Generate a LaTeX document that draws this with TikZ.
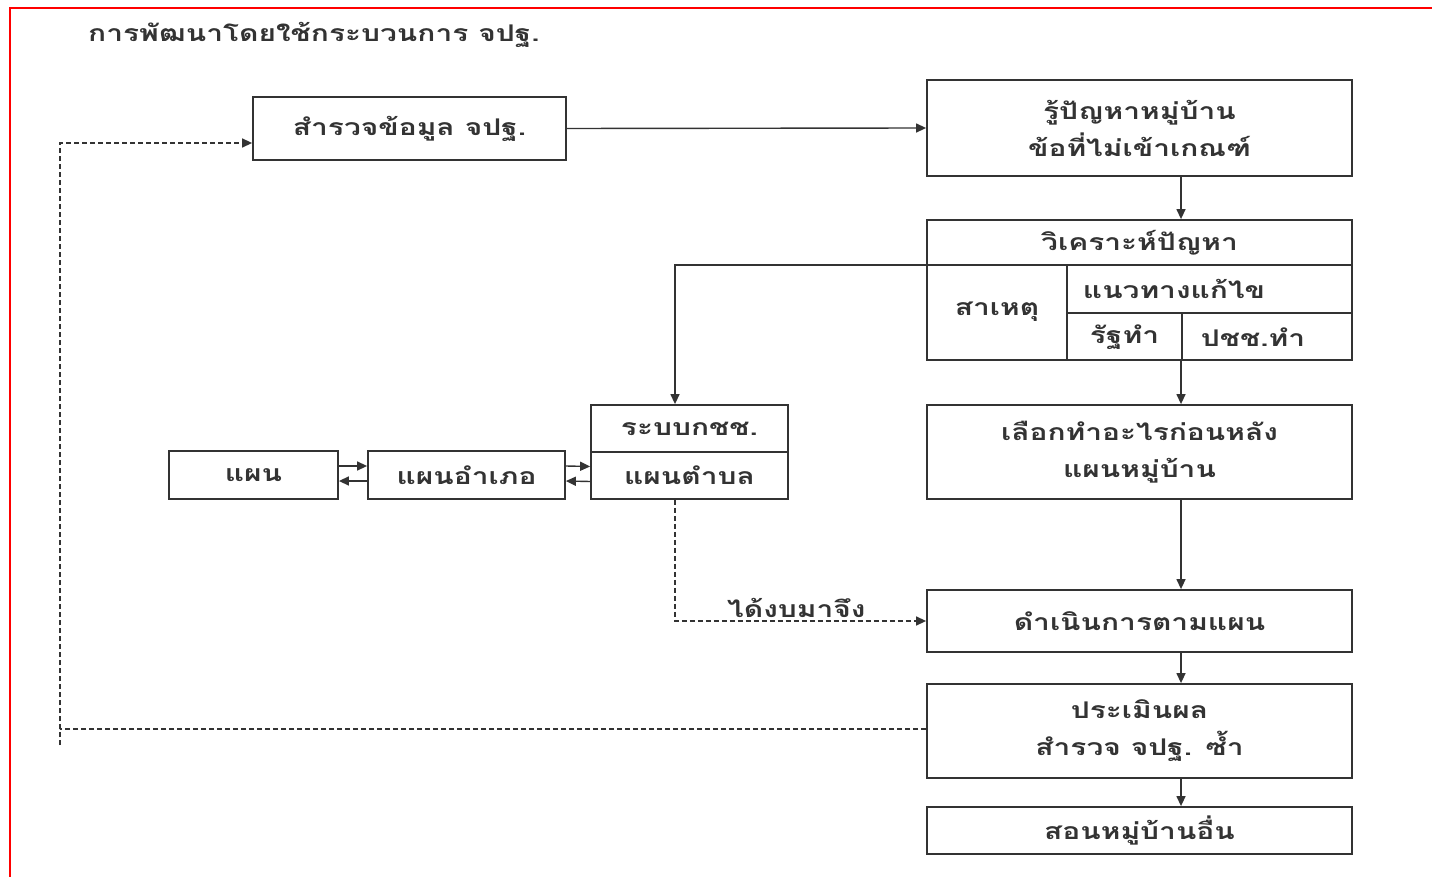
\documentclass[tikz,border=0pt]{standalone}
\usepackage{fontspec}
\setmainfont[Script=Thai,FakeStretch=1.3]{Loma}
\usetikzlibrary{arrows.meta}
\begin{document}
\begin{tikzpicture}[x=1pt,y=-1pt,
  box/.style={draw=black!80,line width=1.8pt,inner sep=0pt,font=\bfseries\fontsize{23}{37}\selectfont,text=black!80,align=center},
  lbl/.style={inner sep=0pt,font=\bfseries\fontsize{23}{37}\selectfont,text=black!80,align=center},
  conn/.style={draw=black!80,line width=1.4pt,-{Triangle[length=10pt,width=9pt]}},
  dconn/.style={draw=black!80,line width=1.4pt,dash pattern=on 5pt off 3pt,-{Triangle[length=10pt,width=9pt]}},
  dline/.style={draw=black!80,line width=1.4pt,dash pattern=on 5pt off 3pt}]
\useasboundingbox (0,0) rectangle (1432,877);
\fill[white] (0,0) rectangle (1432,877);
% frame
\draw[red,line width=2pt] (10,877) -- (10,8) -- (1432,8);

% title
\node[lbl,anchor=west] (title) at (88,35) {การพัฒนาโดยใช้กระบวนการ จปฐ.};

% main boxes
\node[box,minimum width=313pt,minimum height=63pt] (survey) at (409.5,128.5) {สำรวจข้อมูล จปฐ.};
\node[box,minimum width=425pt,minimum height=96pt] (know) at (1139.5,128) {รู้ปัญหาหมู่บ้าน\\ข้อที่ไม่เข้าเกณฑ์};

% analysis table
\node[box,minimum width=425pt,minimum height=140pt] (anal) at (1139.5,290) {};
\draw[black!80,line width=1.8pt] (927,265) -- (1352,265);
\draw[black!80,line width=1.8pt] (1067,265) -- (1067,360);
\draw[black!80,line width=1.8pt] (1067,313) -- (1352,313);
\draw[black!80,line width=1.8pt] (1182,313) -- (1182,360);
\node[lbl] (analT) at (1139.5,243) {วิเคราะห์ปัญหา};
\node[lbl] (cause) at (997,312) {สาเหตุ};
\node[lbl] (fix) at (1174,289) {แนวทางแก้ไข};
\node[lbl] (gov) at (1124.5,337) {รัฐทำ};
\node[lbl] (ppl) at (1253,337) {ปชช.ทำ};
\coordinate (analL) at (927,265);

\node[box,minimum width=425pt,minimum height=94pt] (choose) at (1139.5,452) {เลือกทำอะไรก่อนหลัง\\แผนหมู่บ้าน};
\node[box,minimum width=425pt,minimum height=62pt] (do) at (1139.5,621) {ดำเนินการตามแผน};
\node[box,minimum width=425pt,minimum height=94pt] (eval) at (1139.5,731) {ประเมินผล\\สำรวจ จปฐ. ซ้ำ};
\node[box,minimum width=425pt,minimum height=47pt] (teach) at (1139.5,830.5) {สอนหมู่บ้านอื่น};

% plan boxes
\node[box,minimum width=197pt,minimum height=47pt] (kchch) at (689.5,428.5) {ระบบกชช.};
\node[box,minimum width=197pt,minimum height=47pt] (tambon) at (689.5,475.5) {แผนตำบล};
\node[box,minimum width=197pt,minimum height=48pt] (amphoe) at (466.5,475) {แผนอำเภอ};
\node[box,minimum width=169pt,minimum height=48pt] (plan) at (253.5,475) {แผน};

% main flow
\draw[conn] (survey.east) -- (know.west);
\draw[conn] (know.south -| 1181,0) -- (anal.north -| 1181,0);
\draw[conn] (anal.south -| 1181,0) -- (choose.north -| 1181,0);
\draw[conn] (choose.south -| 1181,0) -- (do.north -| 1181,0);
\draw[conn] (do.south -| 1181,0) -- (eval.north -| 1181,0);
\draw[conn] (eval.south -| 1181,0) -- (teach.north -| 1181,0);

% analysis to sub-district system
\draw[conn] (analL) -| (kchch.north -| 675,0);

% two-way links between plans
\draw[conn] ([yshift=9pt]plan.east) -- ([yshift=9pt]amphoe.west);
\draw[conn] ([yshift=-6pt]amphoe.west) -- ([yshift=-6pt]plan.east);
\draw[conn] ([yshift=9pt]amphoe.east) -- ([yshift=9pt]tambon.west);
\draw[conn] ([yshift=-6pt]tambon.west) -- ([yshift=-6pt]amphoe.east);

% budget path
\draw[dconn] (tambon.south -| 675,0) |- (do.west);
\node[lbl,anchor=south west] (budget) at (727,618) {ได้งบมาจึง};

% feedback loop
\coordinate (loopB) at (60,729);
\coordinate (loopT) at (60,143);
\draw[dline] (eval.west |- 0,729) -- (loopB);
\draw[dline] (60,745) -- (loopB);
\draw[dconn] (loopB) -- (loopT) -- (survey.west |- loopT);
\end{tikzpicture}
\end{document}
